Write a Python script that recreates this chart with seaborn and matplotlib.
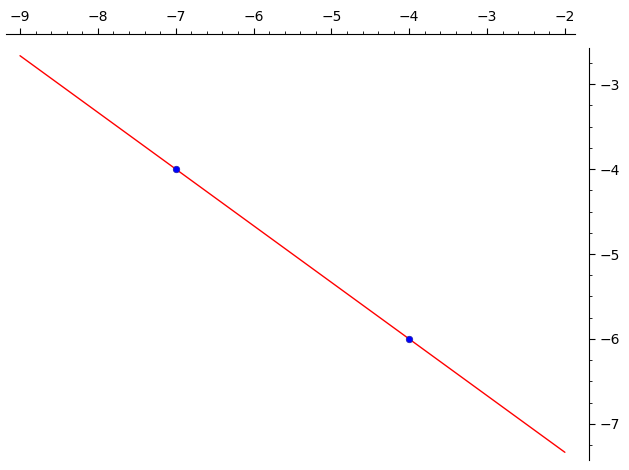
import matplotlib
matplotlib.use("Agg")
import matplotlib.pyplot as plt
from matplotlib.ticker import MultipleLocator
import seaborn as sns

# line through the two points, drawn over x in [-9, -2]
line_x = [-9.0, -2.0]
line_y = [-2.6667, -7.3333]
# the two marked points
pts_x = [-7.0, -4.0]
pts_y = [-4.0, -6.0]

sns.set_style("ticks")
plt.rcParams['font.family'] = ['DejaVu Sans']
plt.rcParams['text.color'] = 'black'
plt.rcParams['xtick.color'] = 'black'
plt.rcParams['ytick.color'] = 'black'
plt.rcParams['axes.edgecolor'] = 'black'

fig = plt.figure(figsize=(6.29, 4.70), dpi=100)
ax = fig.add_axes([6 / 629, 10 / 470, 569 / 629, 412 / 470])

sns.lineplot(x=line_x, y=line_y, color="red", linewidth=1.0, ax=ax)
sns.scatterplot(x=pts_x, y=pts_y, color="blue", s=22, edgecolor="#2020a0",
                linewidth=0.5, zorder=5, ax=ax)

ax.set_xlim(-9.18, -1.87)
ax.set_ylim(-7.424, -2.576)

# Sage-like axes: x axis on top, y axis on the right, pushed outward
for s in ["left", "bottom"]:
    ax.spines[s].set_visible(False)
ax.spines["top"].set_position(("outward", 10))
ax.spines["right"].set_position(("outward", 10))
ax.xaxis.set_ticks_position("top")
ax.xaxis.set_label_position("top")
ax.yaxis.set_ticks_position("right")
ax.yaxis.set_label_position("right")

ax.xaxis.set_major_locator(MultipleLocator(1))
ax.xaxis.set_minor_locator(MultipleLocator(0.2))
ax.yaxis.set_major_locator(MultipleLocator(1))
ax.yaxis.set_minor_locator(MultipleLocator(0.25))
ax.tick_params(which="major", length=4, width=0.8, labelsize=10, colors="black")
ax.tick_params(which="minor", length=2, width=0.6, colors="black")

ax.set_xlabel("")
ax.set_ylabel("")

fig.savefig("out.png", dpi=100)
